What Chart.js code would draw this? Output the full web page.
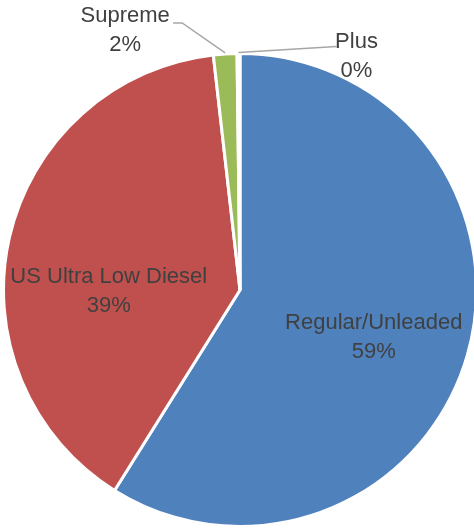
<!DOCTYPE html>
<html>
<head>
<meta charset="utf-8">
<script src="https://cdn.jsdelivr.net/npm/chart.js@4.4.0/dist/chart.umd.min.js"></script>
<style>
  html, body { margin: 0; padding: 0; background: #fff; overflow: hidden; }
  #wrap { width: 480px; height: 529px; position: relative; }
</style>
</head>
<body>
<div id="wrap"><canvas id="pie"></canvas></div>
<script>
// fuel mix (percent)
const fuelTypes = ['Regular/Unleaded', 'US Ultra Low Diesel', 'Supreme', 'Plus'];
const fuelShare = [58.9, 39.3, 1.6, 0.2];
const sliceColors = ['#4F81BD', '#C0504D', '#9BBB59', '#8064A2'];

const textColor = '#404040';
const labelFont = '22px "Liberation Sans", Arial, sans-serif';

// where each label goes: inside slices use polar offsets, outside ones get a leader line
const labelPlacement = [
    {inside: true, dAngle: 3.5, r: 0.60},
    {inside: true, dAngle: -13.3, r: 0.555},
    {inside: false, elbow: [-43, -31], end: [-52, -31], text: [-100, -24]},
    {inside: false, elbow: null, end: [98, -7], text: [118, 3]}
];

const pieLabels = {
    id: 'pieLabels',
    afterDatasetsDraw(chart) {
        const ctx = chart.ctx;
        const meta = chart.getDatasetMeta(0);
        const vals = chart.data.datasets[0].data;
        const total = vals.reduce((a, b) => a + b, 0);
        ctx.save();
        ctx.font = labelFont;
        ctx.textAlign = 'center';
        ctx.textBaseline = 'middle';
        meta.data.forEach((arc, i) => {
            const p = labelPlacement[i];
            const pct = Math.round(vals[i] / total * 100) + '%';
            const mid = (arc.startAngle + arc.endAngle) / 2;
            let tx, ty;
            if (p.inside) {
                const a = mid + p.dAngle * Math.PI / 180;
                tx = arc.x + Math.cos(a) * arc.outerRadius * p.r;
                ty = arc.y + Math.sin(a) * arc.outerRadius * p.r;
            } else {
                const ex = arc.x + Math.cos(mid) * arc.outerRadius;
                const ey = arc.y + Math.sin(mid) * arc.outerRadius;
                ctx.strokeStyle = '#A6A6A6';
                ctx.lineWidth = 1.5;
                ctx.beginPath();
                ctx.moveTo(ex, ey - 1);
                if (p.elbow) ctx.lineTo(ex + p.elbow[0], ey + p.elbow[1]);
                ctx.lineTo(ex + p.end[0], ey + p.end[1]);
                ctx.stroke();
                tx = ex + p.text[0];
                ty = ey + p.text[1];
            }
            ctx.fillStyle = textColor;
            ctx.fillText(chart.data.labels[i], tx, ty - 14.5);
            ctx.fillText(pct, tx, ty + 14.5);
        });
        ctx.restore();
    }
};

new Chart(document.getElementById('pie'), {
    type: 'pie',
    data: {
        labels: fuelTypes,
        datasets: [{
            data: fuelShare,
            backgroundColor: sliceColors,
            borderColor: '#ffffff',
            borderWidth: 3,
            hoverOffset: 0
        }]
    },
    options: {
        responsive: true,
        maintainAspectRatio: false,
        animation: false,
        layout: {
            // canvas is a bit wider than the window so the pie can touch the right edge
            padding: {top: 52, left: 2, right: 2, bottom: 1}
        },
        plugins: {
            legend: {display: false},
            tooltip: {enabled: false}
        }
    },
    plugins: [pieLabels]
});
</script>
</body>
</html>
